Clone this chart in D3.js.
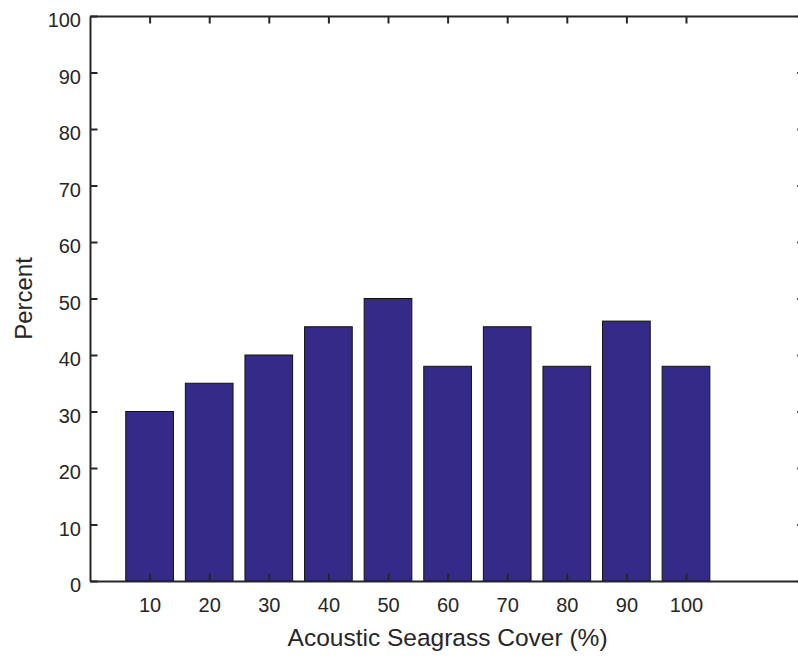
<!DOCTYPE html>
<html>
<head>
<meta charset="utf-8">
<script src="https://cdn.jsdelivr.net/npm/d3@7"></script>
<style>
  body { margin: 0; background: #fff; }
  text { font-family: "Liberation Sans", Arial, sans-serif; fill: #262626; }
</style>
</head>
<body>
<svg id="chart" width="798" height="658"></svg>
<script>
var categories = ["10", "20", "30", "40", "50", "60", "70", "80", "90", "100"];
var percents = [30, 35, 40, 45, 50, 38, 45, 38, 46, 38];
var yTicks = [0, 10, 20, 30, 40, 50, 60, 70, 80, 90, 100];

var svg = d3.select("#chart"),
    MARGINS = { top: 16, left: 90, bottom: 581 },
    plotRight = 805.2;

// bar positions follow MATLAB style: index 1..10 on a 0..12 axis, width 0.8
var xScale = d3.scaleLinear().domain([0, 12]).range([MARGINS.left, plotRight]);
var yScale = d3.scaleLinear().domain([0, 100]).range([MARGINS.bottom, MARGINS.top]);
var barW = xScale(0.8) - xScale(0);

svg.selectAll("rect.bar")
    .data(percents)
    .enter().append("rect")
    .attr("class", "bar")
    .attr("x", function (d, i) { return xScale(i + 1) - barW / 2; })
    .attr("y", function (d) { return yScale(d); })
    .attr("width", barW)
    .attr("height", function (d) { return yScale(0) - yScale(d); })
    .attr("fill", "#352a87")
    .attr("stroke", "#111")
    .attr("stroke-width", 1);

var tickIdx = d3.range(1, categories.length + 1);

var xAxis = d3.axisBottom(xScale)
    .tickValues(tickIdx)
    .tickFormat(function (d) { return categories[d - 1]; })
    .tickSizeInner(-7.5)
    .tickSizeOuter(0);

var xAxisTop = d3.axisTop(xScale)
    .tickValues(tickIdx)
    .tickFormat("")
    .tickSizeInner(-7.5)
    .tickSizeOuter(0);

var yAxis = d3.axisLeft(yScale)
    .tickValues(yTicks)
    .tickSizeInner(-7.5)
    .tickSizeOuter(0)
    .tickPadding(9);

var yAxisRight = d3.axisRight(yScale)
    .tickValues(yTicks)
    .tickFormat("")
    .tickSizeInner(-8)
    .tickSizeOuter(0);

function style(g) {
  g.selectAll("path").attr("stroke", "#262626").attr("stroke-width", 2);
  g.selectAll("line").attr("stroke", "#262626").attr("stroke-width", 2);
  g.selectAll("text").attr("font-size", 20).attr("fill", "#262626")
    .attr("font-family", "Liberation Sans, Arial, sans-serif");
}

svg.append("g")
    .attr("transform", "translate(0," + MARGINS.bottom + ")")
    .call(xAxis).call(style)
    .selectAll("text").attr("y", 31).attr("dy", 0);

svg.append("g")
    .attr("transform", "translate(0," + MARGINS.top + ")")
    .call(xAxisTop).call(style);

svg.append("g")
    .attr("transform", "translate(" + MARGINS.left + ",0)")
    .call(yAxis).call(style)
    .selectAll("text").attr("dy", 10.5);

svg.append("g")
    .attr("transform", "translate(" + plotRight + ",0)")
    .call(yAxisRight).call(style);

svg.append("text")
    .attr("x", (MARGINS.left + plotRight) / 2)
    .attr("y", 646)
    .attr("text-anchor", "middle")
    .attr("font-size", 24.5)
    .text("Acoustic Seagrass Cover (%)");

svg.append("text")
    .attr("transform", "translate(32," + yScale(50) + ") rotate(-90)")
    .attr("text-anchor", "middle")
    .attr("font-size", 24)
    .text("Percent");
</script>
</body>
</html>
